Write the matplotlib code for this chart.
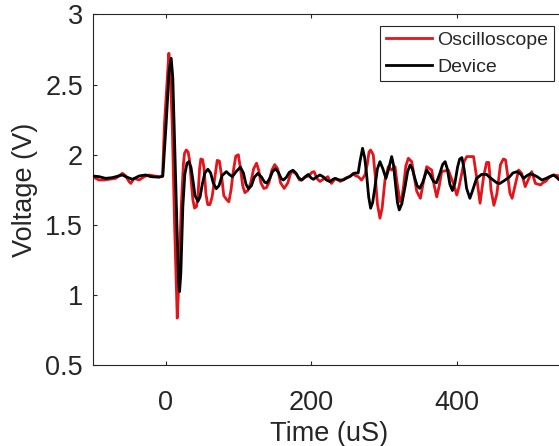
import matplotlib
matplotlib.use("Agg")
import matplotlib.pyplot as plt

# ---- data ----
osc_t = [-100.5, -95.9, -91.3, -84.4, -77.5, -68.4, -59.2, -54.6, -50.0, -47.7, -43.1, -36.2,
         -29.3, -22.4, -15.6, -8.7, -4.1, -1.4, 4.6, 6.5, 9.2, 12.4, 16.1, 18.0, 21.6, 24.5,
         26.1, 28.5, 31.0, 33.0, 35.5, 37.6, 39.9, 42.5, 44.5, 46.8, 48.5, 51.0, 53.0, 55.5,
         58.0, 61.0, 64.0, 68.0, 71.0, 74.0, 77.0, 80.0, 84.0, 87.0, 90.0, 93.0, 96.5, 100.0,
         103.0, 106.0, 109.0, 113.0, 117.0, 121.0, 125.0, 128.0, 131.0, 135.0, 138.5, 142.0,
         146.0, 150.0, 154.0, 158.0, 163.0, 168.0, 172.0, 175.0, 180.0, 184.0, 187.0, 192.0,
         197.0, 201.0, 204.0, 208.0, 212.0, 218.0, 223.0, 226.0, 228.0, 233.0, 237.0, 240.0,
         246.0, 250.0, 253.0, 257.8, 261.0, 264.6, 269.3, 273.9, 277.0, 279.5, 281.7, 285.3,
         288.0, 291.0, 294.5, 297.5, 301.4, 306.0, 310.6, 315.2, 318.0, 322.0, 324.3, 327.0,
         330.0, 333.5, 338.1, 341.0, 345.0, 350.0, 354.0, 358.7, 365.6, 369.0, 372.5, 376.0,
         379.3, 388.5, 392.0, 395.4, 400.0, 403.0, 406.9, 410.0, 413.8, 423.0, 427.0, 432.0,
         437.0, 441.0, 444.0, 447.0, 451.0, 455.0, 460.0, 464.0, 467.0, 470.0, 473.0, 476.0,
         480.0, 485.0, 489.0, 494.0, 498.0, 503.0, 508.0, 515.0, 518.0, 522.0, 528.0, 533.0,
         540.0, 546.0]
osc_v = [1.856, 1.832, 1.820, 1.820, 1.825, 1.832, 1.868, 1.849, 1.808, 1.796, 1.832, 1.820,
         1.844, 1.856, 1.849, 1.844, 1.844, 2.224, 2.723, 2.600, 2.224, 1.512, 0.836, 1.050,
         1.630, 1.930, 2.010, 2.034, 2.020, 1.963, 1.800, 1.678, 1.620, 1.630, 1.700, 1.900,
         1.970, 1.965, 1.900, 1.720, 1.645, 1.645, 1.700, 1.850, 1.960, 1.955, 1.850, 1.710,
         1.680, 1.665, 1.750, 1.880, 1.990, 2.000, 1.900, 1.780, 1.730, 1.745, 1.800, 1.900,
         1.940, 1.890, 1.800, 1.760, 1.765, 1.800, 1.890, 1.930, 1.900, 1.800, 1.760, 1.800,
         1.870, 1.880, 1.860, 1.820, 1.820, 1.840, 1.850, 1.875, 1.880, 1.830, 1.810, 1.830,
         1.844, 1.810, 1.796, 1.830, 1.820, 1.810, 1.830, 1.840, 1.844, 1.868, 1.850, 1.844,
         1.820, 1.856, 1.930, 2.020, 2.034, 1.999, 1.850, 1.650, 1.548, 1.620, 1.820, 1.915,
         1.891, 1.915, 1.800, 1.666, 1.678, 1.780, 1.920, 1.975, 1.951, 1.860, 1.740, 1.690,
         1.800, 1.915, 1.891, 1.780, 1.700, 1.780, 1.880, 1.891, 1.840, 1.796, 1.713, 1.770,
         1.868, 1.950, 1.987, 1.987, 1.850, 1.655, 1.850, 1.945, 1.945, 1.750, 1.640, 1.720,
         1.930, 1.970, 1.963, 1.850, 1.725, 1.690, 1.780, 1.891, 1.868, 1.773, 1.820, 1.880,
         1.796, 1.785, 1.800, 1.810, 1.844, 1.856, 1.850, 1.830]

dev_t = [-100.5, -91.3, -82.1, -73.0, -59.2, -54.6, -45.4, -36.2, -27.1, -20.2, -8.7, -3.7,
         0.9, 5.0, 7.8, 10.0, 12.4, 15.6, 18.0, 19.3, 21.0, 23.8, 26.5, 29.5, 32.1, 35.0,
         37.6, 40.5, 44.5, 47.5, 50.5, 54.0, 58.2, 62.0, 65.5, 69.7, 73.5, 77.5, 83.5, 87.5,
         91.8, 97.0, 102.8, 107.0, 110.5, 114.0, 118.0, 122.0, 127.0, 132.0, 136.0, 139.0,
         143.0, 147.0, 151.0, 155.0, 159.0, 162.0, 166.0, 170.0, 175.0, 179.0, 183.0, 187.0,
         191.0, 196.0, 200.0, 203.0, 207.0, 212.0, 216.0, 221.0, 226.0, 230.0, 233.0, 239.0,
         244.0, 249.0, 253.0, 260.0, 264.6, 267.0, 270.6, 273.5, 276.0, 279.0, 281.7, 284.5,
         287.7, 291.0, 294.5, 298.5, 302.7, 306.5, 310.6, 313.0, 315.7, 318.5, 321.0, 324.5,
         329.0, 332.5, 335.8, 339.0, 342.0, 345.5, 349.0, 353.0, 358.7, 363.0, 368.0, 372.0,
         377.0, 380.5, 384.0, 387.0, 390.5, 394.0, 397.5, 401.0, 404.0, 407.0, 410.0, 413.5,
         418.0, 422.0, 427.0, 434.0, 441.0, 445.0, 450.0, 455.0, 459.0, 465.0, 472.0, 477.0,
         483.0, 488.0, 492.0, 496.0, 501.0, 506.0, 510.0, 517.0, 522.0, 528.0, 533.0, 537.0,
         541.0, 546.0]
dev_v = [1.849, 1.844, 1.832, 1.837, 1.856, 1.844, 1.825, 1.849, 1.856, 1.844, 1.840, 1.849,
         2.224, 2.600, 2.687, 2.550, 2.105, 1.512, 1.100, 1.025, 1.150, 1.630, 1.860, 1.940,
         1.951, 1.910, 1.820, 1.710, 1.668, 1.700, 1.790, 1.870, 1.897, 1.870, 1.800, 1.758,
         1.780, 1.850, 1.880, 1.860, 1.844, 1.880, 1.912, 1.870, 1.790, 1.757, 1.780, 1.840,
         1.868, 1.840, 1.805, 1.798, 1.830, 1.880, 1.900, 1.875, 1.830, 1.820, 1.840, 1.875,
         1.890, 1.870, 1.835, 1.820, 1.840, 1.860, 1.835, 1.825, 1.840, 1.856, 1.845, 1.820,
         1.808, 1.825, 1.832, 1.820, 1.820, 1.835, 1.845, 1.870, 1.870, 1.950, 2.046, 1.980,
         1.868, 1.700, 1.619, 1.660, 1.773, 1.900, 1.951, 1.900, 1.832, 1.900, 1.987, 1.930,
         1.800, 1.660, 1.607, 1.650, 1.773, 1.880, 1.927, 1.900, 1.840, 1.780, 1.761, 1.800,
         1.890, 1.860, 1.810, 1.800, 1.870, 1.930, 1.951, 1.900, 1.790, 1.745, 1.800, 1.910,
         1.970, 1.980, 1.900, 1.760, 1.690, 1.750, 1.830, 1.860, 1.860, 1.840, 1.820, 1.800,
         1.795, 1.815, 1.840, 1.870, 1.880, 1.860, 1.832, 1.850, 1.865, 1.855, 1.845, 1.820,
         1.830, 1.845, 1.855, 1.840, 1.820, 1.830]

x_ticks = [0, 200, 400]
y_ticks = [0.5, 1.0, 1.5, 2.0, 2.5, 3.0]
y_ticklabels = ["0.5", "1", "1.5", "2", "2.5", "3"]
series_labels = ["Oscilloscope", "Device"]

plt.rcParams['font.family'] = ['Liberation Sans', 'DejaVu Sans']
axcol = '#262626'

fig = plt.figure(figsize=(5.59, 4.46), dpi=100)
W, H = 559, 446
left_px, right_px, top_px, bot_px = 92.7, 566.0, 14.4, 365.3
ax = fig.add_axes([left_px / W, 1 - bot_px / H, (right_px - left_px) / W, (bot_px - top_px) / H])

ax.plot(osc_t, osc_v, color='#e3151a', lw=2.0, label=series_labels[0], zorder=2,
        solid_joinstyle='round')
ax.plot(dev_t, dev_v, color='black', lw=2.0, label=series_labels[1], zorder=3,
        solid_joinstyle='round')

ax.set_xlim(-100, 550)
ax.set_ylim(0.5, 3)
ax.set_xticks(x_ticks)
ax.set_yticks(y_ticks)
ax.set_yticklabels(y_ticklabels)

for s in ax.spines.values():
    s.set_color(axcol)
    s.set_linewidth(0.8)

ax.tick_params(axis='both', direction='in', length=3, width=0.8, color=axcol,
               labelcolor=axcol, labelsize=19.5, top=True, right=True)
ax.tick_params(axis='x', pad=17.5)
ax.tick_params(axis='y', pad=7)

ax.set_xlabel('Time (uS)', fontsize=19.5, color=axcol, labelpad=4)
ax.set_ylabel('Voltage (V)', fontsize=19.5, color=axcol, labelpad=5)

leg = ax.legend(loc='upper right', bbox_to_anchor=(554.3 / W, 1 - 25.7 / H),
                bbox_transform=fig.transFigure, borderaxespad=0, fontsize=14,
                handlelength=2.35, handletextpad=0.3, borderpad=0.3, labelspacing=0.45,
                fancybox=False, framealpha=1, edgecolor=axcol)
leg.get_frame().set_linewidth(0.8)
for t in leg.get_texts():
    t.set_color(axcol)

fig.savefig('out.png', dpi=100)
